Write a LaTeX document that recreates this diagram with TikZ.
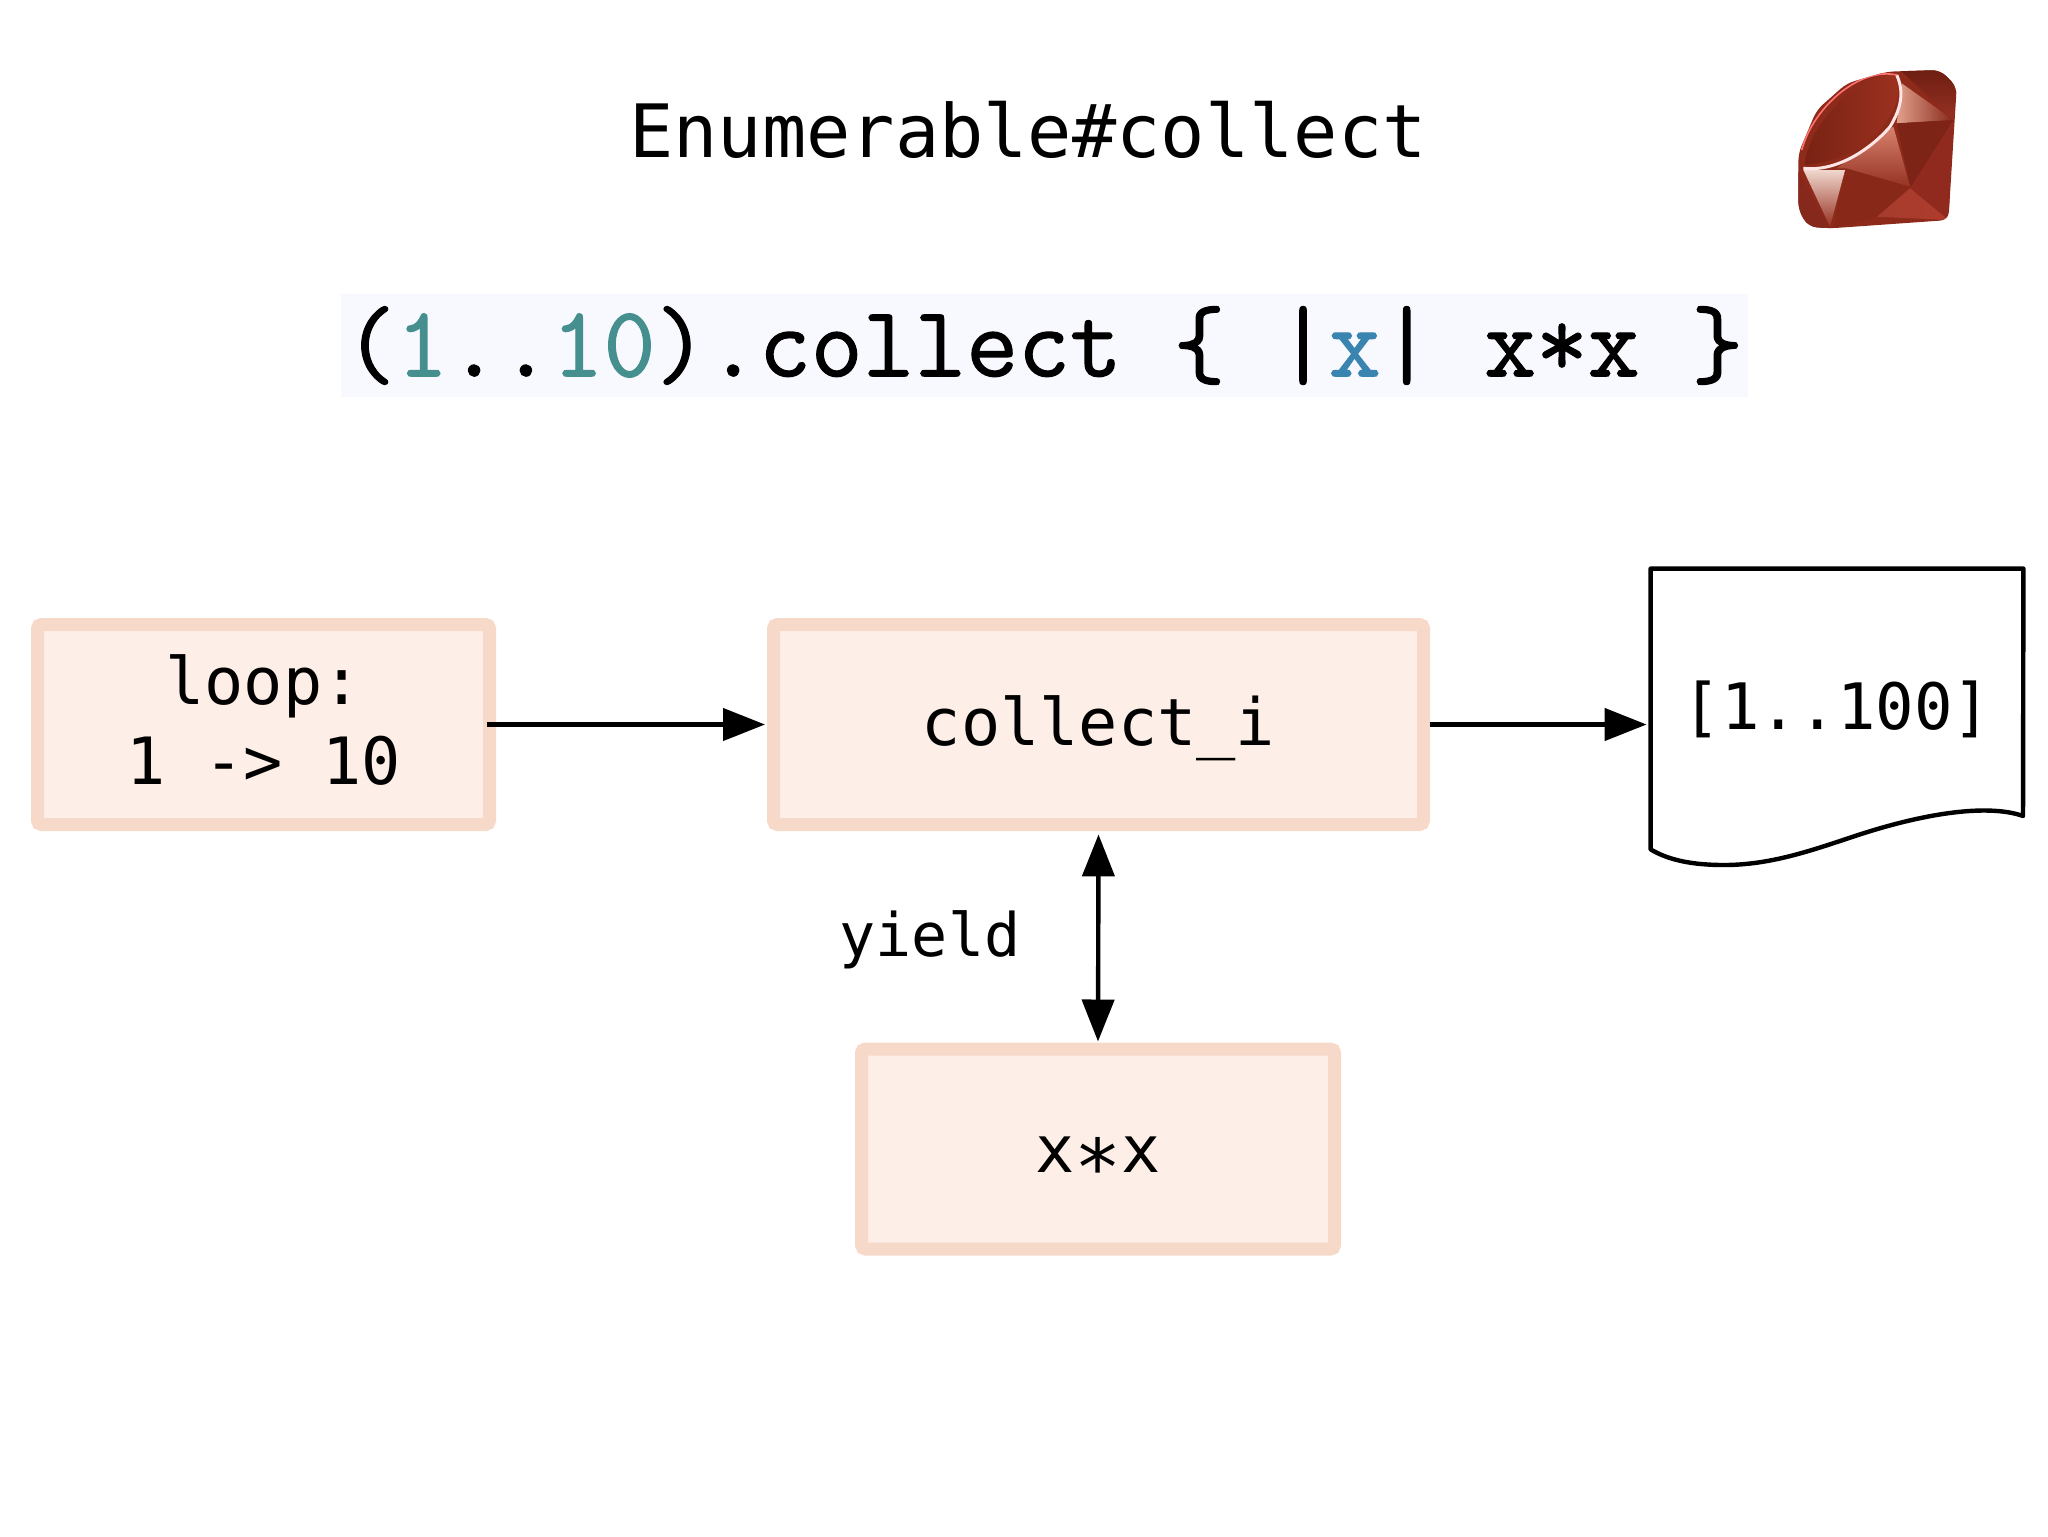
\documentclass[tikz,border=0pt]{standalone}
\usepackage{fontspec}
\usepackage{tikz}
\usetikzlibrary{arrows.meta,positioning,calc}
\newfontfamily\labelfont{DejaVu Sans Mono}
\newfontfamily\codefont[FakeBold=1.2]{Latin Modern Mono}
\definecolor{boxborder}{HTML}{F7D9CA}
\definecolor{boxfill}{HTML}{FDEFE7}
\definecolor{codeband}{HTML}{F8F8FF}
\definecolor{numteal}{HTML}{458F8F}
\definecolor{varblue}{HTML}{3A85B0}
\tikzset{
    proc/.style={
        rectangle,
        draw=boxborder,
        fill=boxfill,
        line width=6.5pt,
        rounded corners=2pt,
        minimum height=100pt,
        align=center,
        font=\labelfont\fontsize{32.6}{39.6}\selectfont,
    },
    title/.style={
        font=\labelfont\fontsize{36.8}{40}\selectfont,
    },
    codeline/.style={
        fill=codeband,
        minimum width=703.5pt,
        minimum height=51.5pt,
        inner sep=0pt,
        font=\codefont\fontsize{50.3}{50}\selectfont,
    },
    doc/.style={
        rectangle,
        minimum width=186pt,
        minimum height=140pt,
        inner sep=0pt,
        font=\labelfont\fontsize{32}{36}\selectfont,
    },
    flow/.style={
        draw,
        line width=2.2pt,
        -{Triangle[length=21pt,width=16pt]},
    },
    flowboth/.style={
        flow,
        {Triangle[length=21pt,width=16pt]}-{Triangle[length=21pt,width=16pt]},
    },
}
\begin{document}
\begin{tikzpicture}[x=0.5pt,y=-0.5pt]
    \useasboundingbox (0,0) rectangle (2048,1536);
    \node [title] (head) at (1028,130) {Enumerable\#collect};
    \node [codeline] (code) at (1044,345.5) {\raisebox{-3pt}{(\textcolor{numteal}{1}..\textcolor{numteal}{10}).collect \{ |\textcolor{varblue}{x}| x*x \}}};
    \node [proc,minimum width=226pt,text depth=5pt] (loop) at (263.5,724.5) {loop:\\1 -> 10};
    \node [proc,minimum width=325pt,text depth=4pt] (collect) at (1098.5,724.5) {collect\_i};
    \node [proc,minimum width=236.5pt,text height=23pt,text depth=0pt] (square) at (1098,1149) {x\raisebox{-11.7pt}{\scalebox{1.2}{*}}x};
    \node [font=\labelfont\fontsize{30}{36}\selectfont] (yield) at (930,940) {yield};
    \node [doc] (result) at (1837,709) {[1..100]};
    \draw [line width=2.2pt,line join=round] (result.south west) -- (result.north west) -- (result.north east) -- (2023,816)
        .. controls (1995,806) and (1940,808) .. (1855,836)
        .. controls (1810,851) and (1770,865) .. (1724,865)
        .. controls (1695,865) and (1670,861) .. (result.south west) -- cycle;
    \draw [flow,shorten <=-4.5pt,shorten >=1pt] (loop.east) -- (collect.west);
    \draw [flow,shorten >=2pt] (collect.east) -- (collect.east -| result.west);
    \draw [flowboth,shorten <=1.7pt,shorten >=0.5pt] (collect.south) -- (square.north);
    % ruby
    \begin{scope}[shift={(1720,40)},x=0.1667pt,y=-0.1667pt]
        \clip [rounded corners=4pt] (235,340) -- (290,210) -- (380,130) -- (500,95) -- (660,90) -- (710,140) -- (685,540) -- (330,565) -- (265,560) -- (235,510) -- cycle;
        \fill [color={rgb,255:red,142;green,42;blue,26}] (200,60) rectangle (740,600);
        \shade [top color={rgb,255:red,110;green,30;blue,18},bottom color={rgb,255:red,150;green,50;blue,35}] (540,90) -- (660,90) -- (710,140) -- (700,240) -- cycle;
        \shade [left color={rgb,255:red,225;green,160;blue,140},right color={rgb,255:red,135;green,40;blue,25}] (545,130) -- (700,240) -- (530,250) -- cycle;
        \fill [color={rgb,255:red,125;green,36;blue,22}] (530,250) -- (700,240) -- (690,330) -- (570,440) -- cycle;
        \fill [color={rgb,255:red,145;green,42;blue,30}] (700,240) -- (685,540) -- (570,445) -- cycle;
        \shade [left color={rgb,255:red,165;green,60;blue,45},right color={rgb,255:red,175;green,60;blue,45}] (570,445) -- (685,540) -- (470,530) -- cycle;
        \fill [color={rgb,255:red,135;green,40;blue,25}] (380,385) -- (570,440) -- (470,530) -- (340,565) -- cycle;
        \shade [top color={rgb,255:red,215;green,130;blue,110},bottom color={rgb,255:red,150;green,50;blue,35}] (350,385) -- (520,260) -- (570,440) -- (380,385) -- cycle;
        \shade [top color={rgb,255:red,240;green,215;blue,205},bottom color={rgb,255:red,150;green,50;blue,35}] (250,390) -- (375,390) -- (330,560) -- cycle;
        \fill [color={rgb,255:red,135;green,40;blue,28}] (235,395) -- (330,565) -- (265,560) -- (235,510) -- cycle;
        \shade [shading angle=45,left color={rgb,255:red,120;green,34;blue,20},right color={rgb,255:red,160;green,50;blue,32}] (255,375) .. controls (260,250) and (440,80) .. (530,108)
            .. controls (560,180) and (480,350) .. (255,375) -- cycle;
        \draw [white!90!red,line width=1.5pt] (250,385) .. controls (340,395) and (440,340) .. (510,260)
            .. controls (540,210) and (555,160) .. (530,105);
        \draw [white!45!red,line width=0.8pt] (530,105) .. controls (420,80) and (280,200) .. (245,330);
    \end{scope}
\end{tikzpicture}
\end{document}
